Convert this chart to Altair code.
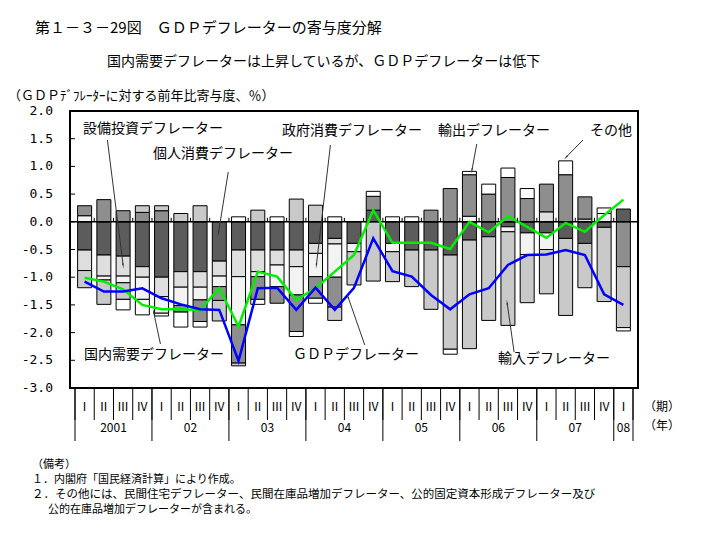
import altair as alt
import pandas as pd

# ---------------- data ----------------
quarter_labels = ["Ⅰ", "Ⅱ", "Ⅲ", "Ⅳ"] * 7 + ["Ⅰ"]
year_labels = ["2001", "02", "03", "04", "05", "06", "07", "08"]
year_first_q = [0, 4, 8, 12, 16, 20, 24, 28]
year_n_q = [4, 4, 4, 4, 4, 4, 4, 1]

components = ["個人消費デフレーター", "設備投資デフレーター", "政府消費デフレーター",
              "輸出デフレーター", "輸入デフレーター", "その他"]

personal = [-0.51, -0.60, -0.62, -0.81, -1.00, -0.90, -0.90, -0.71, -0.51, -0.51,
            -0.51, -0.51, -0.39, -0.30, -0.39, 0.21, -0.39, -0.51, -0.51, -0.60,
            -0.33, -0.27, -0.09, -0.20, -0.20, -0.30, -0.39, -0.10, 0.23]
equipment = [-0.37, -0.38, -0.36, -0.19, -0.35, -0.28, -0.28, -0.27, -0.48, -0.39,
             -0.27, -0.30, -0.18, -0.10, 0.0, 0.0, 0.0, 0.0, 0.0, 0.0,
             0.0, 0.0, 0.0, 0.0, 0.18, 0.0, 0.05, 0.0, 0.0]
government = [0.11, -0.07, -0.12, -0.40, -0.30, -0.33, -0.23, -0.19, -0.87, -0.09,
              -0.39, -0.51, -0.42, -0.60, -0.15, 0.0, -0.15, 0.0, 0.0, 0.0,
              0.10, 0.0, -0.09, -0.39, -0.30, 0.0, 0.0, 0.15, 0.0]
export = [0.18, 0.40, 0.20, 0.17, 0.20, -0.12, -0.39, -0.25, -0.69, -0.41,
          -0.30, -0.66, -0.39, -0.54, 0.0, 0.25, 0.0, 0.0, 0.21, 0.60,
          0.75, 0.50, 0.80, 0.42, 0.50, 0.85, 0.40, 0.0, -0.81]
imports = [-0.31, -0.44, -0.30, 0.12, 0.09, 0.15, 0.29, -0.37, -0.05, 0.21,
           0.0, 0.41, 0.30, -0.24, -0.60, -1.07, -0.54, -0.66, -1.07, -1.70,
           -1.96, -1.51, -1.69, -0.87, -0.80, -1.39, -0.80, -1.34, -1.10]
other = [0.0, 0.0, -0.19, -0.28, -0.05, -0.27, -0.10, 0.0, 0.09, -0.09,
         0.09, -0.09, -0.09, 0.09, 0.0, 0.09, 0.09, 0.09, 0.0, -0.09,
         0.06, 0.18, 0.17, 0.18, 0.0, 0.25, 0.0, 0.10, -0.06]

domestic_demand = [-1.01, -1.08, -1.22, -1.50, -1.58, -1.58, -1.59, -1.20, -1.89, -0.90,
                   -0.99, -1.41, -1.20, -0.90, -0.60, 0.21, -0.38, -0.38, -0.38, -0.49,
                   0.00, -0.19, 0.10, -0.09, -0.29, -0.02, -0.18, 0.12, 0.40]
gdp = [-1.08, -1.26, -1.26, -1.20, -1.38, -1.49, -1.58, -1.59, -2.51, -1.20,
       -1.19, -1.59, -1.19, -1.59, -1.19, -0.30, -0.89, -0.99, -1.32, -1.58,
       -1.31, -1.20, -0.78, -0.60, -0.59, -0.51, -0.60, -1.31, -1.50]

y_ticks = [-3.0, -2.5, -2.0, -1.5, -1.0, -0.5, 0.0, 0.5, 1.0, 1.5, 2.0]

# ---------------- styling ----------------
W, H = 568, 277
JP = "Noto Sans CJK JP"
fills = ["#5c5c5c", "#dedede", "#f3f3f3", "#8e8e8e", "#c9c9c9", "#ffffff"]

xscale = alt.Scale(domain=[0, 29], nice=False, zero=False)
yscale = alt.Scale(domain=[-3, 2], nice=False, zero=False)

n = len(quarter_labels)
series = [personal, equipment, government, export, imports, other]
rows = []
for ci, (name, vals) in enumerate(zip(components, series)):
    for q, v in enumerate(vals):
        if v != 0:
            rows.append({"xc": q + 0.5, "comp": name, "ord": ci, "value": v})
df_bars = pd.DataFrame(rows)

bars = alt.Chart(df_bars).mark_bar(size=14, stroke="black", strokeWidth=1).encode(
    x=alt.X("xc:Q", scale=xscale, axis=None),
    y=alt.Y("value:Q", stack="zero", scale=yscale, axis=None),
    color=alt.Color("comp:N", scale=alt.Scale(domain=components, range=fills), legend=None),
    order=alt.Order("ord:Q"),
)

zero = alt.Chart(pd.DataFrame({"v": [0.0]})).mark_rule(color="black", strokeWidth=1.5).encode(
    y=alt.Y("v:Q", scale=yscale))

xc_all = [q + 0.5 for q in range(n)]
line_dd = alt.Chart(pd.DataFrame({"xc": xc_all, "value": domestic_demand})).mark_line(
    strokeWidth=2.5, color="#00ee00").encode(
    x=alt.X("xc:Q", scale=xscale), y=alt.Y("value:Q", scale=yscale))
line_gdp = alt.Chart(pd.DataFrame({"xc": xc_all, "value": gdp})).mark_line(
    strokeWidth=2.5, color="#0000ff").encode(
    x=alt.X("xc:Q", scale=xscale), y=alt.Y("value:Q", scale=yscale))

df_yt = pd.DataFrame({"v": y_ticks, "t": [f"{v:.1f}" for v in y_ticks]})
ytick_marks = alt.Chart(df_yt).mark_rule(color="black").encode(
    y=alt.Y("v:Q", scale=yscale), x=alt.value(0), x2=alt.value(5))
ytick_labels = alt.Chart(df_yt).mark_text(
    font="DejaVu Sans Mono", fontSize=13, align="right", baseline="middle", color="black").encode(
    y=alt.Y("v:Q", scale=yscale), x=alt.value(-17), text="t:N")

seps = pd.DataFrame({"s": list(range(n + 1))})
seps["year"] = seps["s"].isin(year_first_q + [n])
zero_ticks = alt.Chart(seps[(seps.s > 0) & (seps.s < n)]).mark_rule(color="black").encode(
    x=alt.X("s:Q", scale=xscale), y=alt.value(2 * H / 5), y2=alt.value(2 * H / 5 - 4))

q_sep = alt.Chart(seps).mark_rule(color="black").encode(
    x=alt.X("s:Q", scale=xscale), y=alt.value(H), y2=alt.value(H + 32))
y_sep = alt.Chart(seps[seps.year]).mark_rule(color="black").encode(
    x=alt.X("s:Q", scale=xscale), y=alt.value(H), y2=alt.value(H + 53))

q_text = alt.Chart(pd.DataFrame({"xc": xc_all, "t": quarter_labels})).mark_text(
    font=JP, fontSize=12, baseline="middle").encode(
    x=alt.X("xc:Q", scale=xscale), y=alt.value(H + 19), text="t:N")
y_text = alt.Chart(pd.DataFrame({
    "xc": [f + k / 2 for f, k in zip(year_first_q, year_n_q)], "t": year_labels})).mark_text(
    font=JP, fontSize=12, baseline="middle").encode(
    x=alt.X("xc:Q", scale=xscale), y=alt.value(H + 40), text="t:N")


def label(t, x, y, size=14, align="left"):
    return alt.Chart(pd.DataFrame({"t": [t]})).mark_text(
        font=JP, fontSize=size, align=align, baseline="middle", color="black").encode(
        x=alt.value(x), y=alt.value(y), text="t:N")


texts = [
    label("第１－３－29図　ＧＤＰデフレーターの寄与度分解", -35, -83, 15),
    label("国内需要デフレーターは上昇しているが、ＧＤＰデフレーターは低下", 37, -49, 14),
    label("（ＧＤＰﾃﾞﾌﾚｰﾀｰに対する前年比寄与度、％）", -62, -15, 13),
    label("（期）", 574, H + 19, 12),
    label("（年）", 574, H + 38, 12),
    label("（備考）", -38, 354, 11),
    label("１．内閣府「国民経済計算」により作成。", -38, 369, 11),
    label("２．その他には、民間住宅デフレーター、民間在庫品増加デフレーター、公的固定資本形成デフレーター及び", -38, 384, 11.5),
    label("公的在庫品増加デフレーターが含まれる。", -22, 399, 11),
    label("設備投資デフレーター", 13, 18, 14),
    label("個人消費デフレーター", 83, 43, 14),
    label("政府消費デフレーター", 212, 20, 14),
    label("輸出デフレーター", 368, 20, 14),
    label("その他", 520, 20, 14),
    label("国内需要デフレーター", 14, 244, 14),
    label("ＧＤＰデフレーター", 223, 244, 14),
    label("輸入デフレーター", 428, 248, 14),
]

leaders = pd.DataFrame({
    "x": [1.685, 7.965, 13.275, 20.88, 26.40, 4.44, 15.06, 22.82],
    "y": [1.476, 0.899, 1.386, 1.404, 1.476, -2.206, -2.224, -2.35],
    "x2": [2.50, 7.454, 12.545, 20.63, 25.53, 4.085, 14.19, 22.46],
    "y2": [-0.782, -0.203, -0.78, 0.935, 1.168, -1.628, -1.357, -1.466],
    "a": [172.7, 189.3, 186.7, 190.9, 225.0, 347.7, 340.5, 351.9],
})
leader_lines = alt.Chart(leaders).mark_rule(color="#333333", strokeWidth=1).encode(
    x=alt.X("x:Q", scale=xscale), y=alt.Y("y:Q", scale=yscale),
    x2="x2:Q", y2="y2:Q")
arrow_heads = alt.Chart(leaders).mark_point(shape="wedge", filled=True, size=35,
                                            color="#333333", opacity=1).encode(
    x=alt.X("x2:Q", scale=xscale), y=alt.Y("y2:Q", scale=yscale),
    angle=alt.Angle("a:Q", scale=None))

chart = alt.layer(
    bars, zero, line_dd, line_gdp, ytick_marks, ytick_labels, zero_ticks, q_sep, y_sep,
    q_text, y_text, leader_lines, arrow_heads, *texts
).properties(
    width=W, height=H,
    autosize=alt.AutoSizeParams(type="none"),
    padding={"left": 62, "top": 103, "right": 69, "bottom": 130},
).configure_view(stroke="black", strokeWidth=2)

chart.save("out.html", embed_options={"renderer": "svg", "actions": False})
